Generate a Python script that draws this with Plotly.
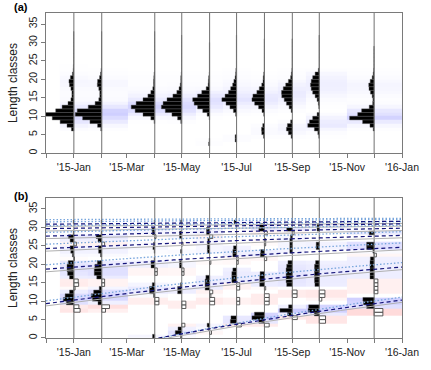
import numpy as np
import plotly.graph_objects as go
from datetime import date

# ---------------- data ----------------
ORIGIN = "2014-12-01"
X_END = "2016-01-01"
SAMPLE_DATES = ["2015-01-01", "2015-02-01", "2015-04-01", "2015-05-01", "2015-06-01",
                "2015-07-01", "2015-08-01", "2015-09-01", "2015-10-01", "2015-12-01"]
BIN_LOWER = list(range(0, 34))   # length classes (lower bounds, width 1)
BIN_WIDTH = 1

# (a) raw catch per length class
A_JAN = [0,0,0,0,0,0,10,28,56,88,115,74,48,24,12,8,8,12,18,20,14,6,3,2,1,1,1,1,1,1,1,1,1,0]
A_FEB = [0,0,0,0,0,0,4,17,48,78,108,100,55,27,12,8,8,12,18,17,9,5,3,1,1,1,1,1,1,1,1,1,1,0]
A_APR = [0,0,0,0,0,0,0,0,3,16,48,80,96,76,48,28,16,8,5,5,4,3,1,1,1,1,1,1,1,1,1,1,1,0]
A_MAY = [0,0,0,0,0,0,0,0,4,17,40,67,83,76,60,36,20,11,6,4,4,2,1,1,1,1,1,1,1,1,1,1,0,0]
A_JUN = [0,0,4,2,0,0,0,0,0,2,10,28,49,63,69,49,32,14,6,5,4,2,1,1,1,1,1,1,1,1,0,0,0,0]
A_JUL = [0,0,0,6,6,0,0,0,0,0,4,13,27,43,60,47,33,24,16,11,6,4,3,1,1,1,1,1,1,1,1,1,0,0]
A_AUG = [0,0,0,0,4,11,12,7,0,0,3,10,24,40,51,47,31,21,11,6,5,3,1,1,1,1,1,1,1,1,1,0,0,0]
A_SEP = [0,0,0,0,5,16,24,20,7,0,0,5,13,24,33,43,44,37,27,16,7,4,2,1,1,1,1,1,1,1,1,0,0,0]
A_OCT = [0,0,0,0,2,6,20,47,40,27,9,0,2,4,9,17,27,33,36,33,27,17,4,1,1,1,1,1,1,1,1,1,0,0]
A_DEC = [0,0,0,0,0,0,4,17,47,100,67,51,20,6,5,8,15,21,22,16,8,4,2,1,1,1,1,1,1,0,0,0,0,0]

# (b) restructured scores per length class
B_JAN = [0,0,0,0,0,0,0,-0.5,-0.4,0.6,0.85,0.7,0.35,-0.1,-0.38,-0.35,0.35,0.5,0.55,0.55,0.45,-0.05,0.12,0.25,0.3,-0.2,0.3,0.44,0.05,0,0,0.05,0,0]
B_FEB = [0,0,0,0,0,0,0,-0.3,-0.62,0.3,0.75,0.85,0.65,0.2,-0.23,-0.23,0.4,0.6,0.6,0.55,0.35,0,0.1,0.25,0.28,-0.23,0.3,0.45,0.05,0,0,0.05,0,0]
B_APR = [0.18,0,0,0,0,0,0,0,0,-0.33,-0.33,0.1,0.42,0.42,0.2,0,0,-0.2,-0.2,0.3,0.3,0.05,0,0.05,0.15,0.1,0,-0.1,0.2,0.23,0,0.05,0,0]
B_MAY = [0.1,0.52,0.3,-0.25,0,0,0,0,-0.33,-0.33,0,0,0.33,0.33,0.1,0,0,-0.18,-0.18,0.18,0.18,0,0,0.1,0,-0.1,0,0.18,0.18,0,0,0.1,0,0]
B_JUN = [0,-0.15,0.1,0.2,0,0,0,0,0,-0.4,-0.4,-0.1,-0.25,0.36,0.36,0.36,0.3,0,0,0,-0.1,0,0,0.18,0.18,0.18,0.15,-0.25,0.25,0.25,0,0,0,0]
B_JUL = [0,0,0,-0.38,0.5,0.45,0,0,0,-0.25,-0.25,0,0,-0.25,-0.25,0.38,0.38,0.38,0.3,0,-0.13,-0.13,0.3,0.3,0.25,0,0,0,0,0,0,0.2,0,0]
B_AUG = [0,0,0,-0.38,0.45,1.0,0.8,0,0,-0.38,-0.38,-0.38,0,-0.1,0.38,0.38,0.38,0.35,0,0,0,-0.18,0.33,0.3,0,-0.1,-0.1,0,-0.23,0.45,0.4,0,0,0]
B_SEP = [0,0,0,0,0,-0.4,0.38,1.0,0.3,0,0,-0.38,-0.38,0,0.45,0.5,0.5,0.5,0.5,0.45,0.35,0,0,0.2,0.2,0.2,0.2,0.15,-0.15,0.45,0,0,0,0]
B_OCT = [0,0,0,0,-0.5,-0.5,0.4,0.9,0.85,0,-0.2,-0.45,-0.45,0,0.35,0.38,0.38,0.38,0.38,0.38,0.3,0,0,0,0.25,0.25,0,0,0,0.18,0.18,0,0,0]
B_DEC = [0,0,0,0,0,0,-0.7,-0.7,0.6,0.85,0.9,0,-0.3,-0.3,-0.3,-0.3,0.33,0.33,0.33,0.33,0.33,0.3,-0.18,0.1,0.6,0.6,0,0,0.4,0,0,0,0,0]

# growth curve parameter sets (Linf, K, birth date of youngest cohort, number of cohorts)
CURVE_DASHED = dict(Linf=32.7, K=0.51, birth="2015-04-05", cohorts=7)
CURVE_DOTTED = dict(Linf=32.9, K=0.56, birth="2015-04-07", cohorts=8)
CURVE_GREY = dict(Linf=32.2, K=0.50, birth="2015-04-15", cohorts=7)

TICK_MONTHS = ["2014-12-01", "2015-01-01", "2015-02-01", "2015-03-01", "2015-04-01", "2015-05-01",
               "2015-06-01", "2015-07-01", "2015-08-01", "2015-09-01", "2015-10-01", "2015-11-01",
               "2015-12-01", "2016-01-01"]
TICK_TEXT = ["", "'15-Jan", "", "'15-Mar", "", "'15-May", "", "'15-Jul", "", "'15-Sep", "",
             "'15-Nov", "", "'16-Jan"]
Y_TICKS = [0, 5, 10, 15, 20, 25, 30, 35]

# ---------------- helpers ----------------
def dday(s):
    return (date.fromisoformat(s) - date.fromisoformat(ORIGIN)).days

sdays = np.array([dday(s) for s in SAMPLE_DATES], dtype=float)
xmax = dday(X_END)
A = np.array([A_JAN, A_FEB, A_APR, A_MAY, A_JUN, A_JUL, A_AUG, A_SEP, A_OCT, A_DEC], dtype=float)
B = np.array([B_JAN, B_FEB, B_APR, B_MAY, B_JUN, B_JUL, B_AUG, B_SEP, B_OCT, B_DEC], dtype=float)
mids = np.array(BIN_LOWER) + BIN_WIDTH / 2
yedges = np.append(np.array(BIN_LOWER, dtype=float), BIN_LOWER[-1] + BIN_WIDTH)

# column edges of image cells: halfway between samples
xe = [sdays[0] - (sdays[1] - sdays[0]) / 2]
xe += list((sdays[:-1] + sdays[1:]) / 2)
xe += [sdays[-1] + (sdays[-1] - sdays[-2]) / 2]

SC_A = 31.4 / A.max()      # days per count
SC_B = 13.9 / np.abs(B).max()

FONT = "Liberation Sans, Arial, Helvetica, sans-serif"
fig = go.Figure()

def add_panel(Z, sc, xa, ya, signed):
    zmax = np.abs(Z).max()
    fig.add_trace(go.Heatmap(
        x=xe, y=yedges, z=Z.T, zmin=-zmax, zmax=zmax,
        colorscale=[[0, "rgb(255,204,204)"], [0.5, "rgb(255,255,255)"], [1, "rgb(204,204,255)"]],
        showscale=False, hoverinfo="skip", xaxis=xa, yaxis=ya))
    # sample lines
    lx, ly = [], []
    for d in sdays:
        lx += [d, d, None]
        ly += [0, 38, None]
    fig.add_trace(go.Scatter(x=lx, y=ly, mode="lines", line=dict(color="#707070", width=1),
                             hoverinfo="skip", xaxis=xa, yaxis=ya))
    for positive in ([True, False] if signed else [True]):
        bx, by, bb = [], [], []
        for i, d in enumerate(sdays):
            for j, v in enumerate(Z[i]):
                if (v > 0 and positive) or (v < 0 and not positive):
                    bx.append(-v * sc)
                    by.append(mids[j])
                    bb.append(d)
        fig.add_trace(go.Bar(
            x=bx, y=by, base=bb, orientation="h", width=BIN_WIDTH,
            marker=dict(color="black" if positive else "white",
                        line=dict(color="#555555" if positive else "#333333",
                                  width=0.4 if positive else 0.8)),
            hoverinfo="skip", xaxis=xa, yaxis=ya))

add_panel(A, SC_A, "x", "y", False)
add_panel(B, SC_B, "x2", "y2", True)

# growth curves in panel (b)
tx = np.linspace(0, xmax, 400)

def add_curves(p, color, dash, width):
    b0 = dday(p["birth"])
    xs, ys = [], []
    for k in range(p["cohorts"]):
        birth = b0 - k * 365.25
        age = (tx - birth) / 365.25
        m = age >= 0
        if not m.any():
            continue
        L = p["Linf"] * (1 - np.exp(-p["K"] * age[m]))
        xs += list(tx[m]) + [None]
        ys += list(L) + [None]
    fig.add_trace(go.Scatter(x=xs, y=ys, mode="lines", line=dict(color=color, dash=dash, width=width),
                             hoverinfo="skip", xaxis="x2", yaxis="y2"))

add_curves(CURVE_GREY, "#b0b0b0", "solid", 1)
add_curves(CURVE_DOTTED, "#78a6dc", "1.5px,2px", 1.3)
add_curves(CURVE_DASHED, "#14147a", "4px,3px", 1.2)

xt = [dday(s) for s in TICK_MONTHS]
axis_common = dict(showline=True, mirror=True, linecolor="#7a7a7a", linewidth=1,
                   showgrid=False, zeroline=False, ticks="outside", ticklen=4,
                   tickcolor="#7a7a7a", tickfont=dict(family=FONT, size=10.5, color="#222222"))
xcfg = dict(range=[0, xmax], tickvals=xt, ticktext=TICK_TEXT, **axis_common)
ycfg = dict(range=[0, 38], tickvals=Y_TICKS, tickangle=-90,
            title=dict(text="Length classes", font=dict(family=FONT, size=12, color="#222222"), standoff=6),
            **axis_common)

fig.update_layout(
    width=431, height=370, margin=dict(l=43, r=18, t=12, b=24),
    paper_bgcolor="white", plot_bgcolor="white", barmode="overlay", showlegend=False,
    xaxis=dict(anchor="y", **xcfg),
    yaxis=dict(domain=[0.569, 1.0], anchor="x", **ycfg),
    xaxis2=dict(anchor="y2", **xcfg),
    yaxis2=dict(domain=[0.0, 0.431], anchor="x2", **ycfg),
    font=dict(family=FONT),
    annotations=[
        dict(text="<b>(a)</b>", x=-0.07, y=1.017, xref="paper", yref="paper", showarrow=False,
             xanchor="center", yanchor="middle", font=dict(family=FONT, size=11, color="black")),
        dict(text="<b>(b)</b>", x=-0.07, y=0.437, xref="paper", yref="paper", showarrow=False,
             xanchor="center", yanchor="middle", font=dict(family=FONT, size=11, color="black")),
    ],
)

fig.write_html("out.html")
